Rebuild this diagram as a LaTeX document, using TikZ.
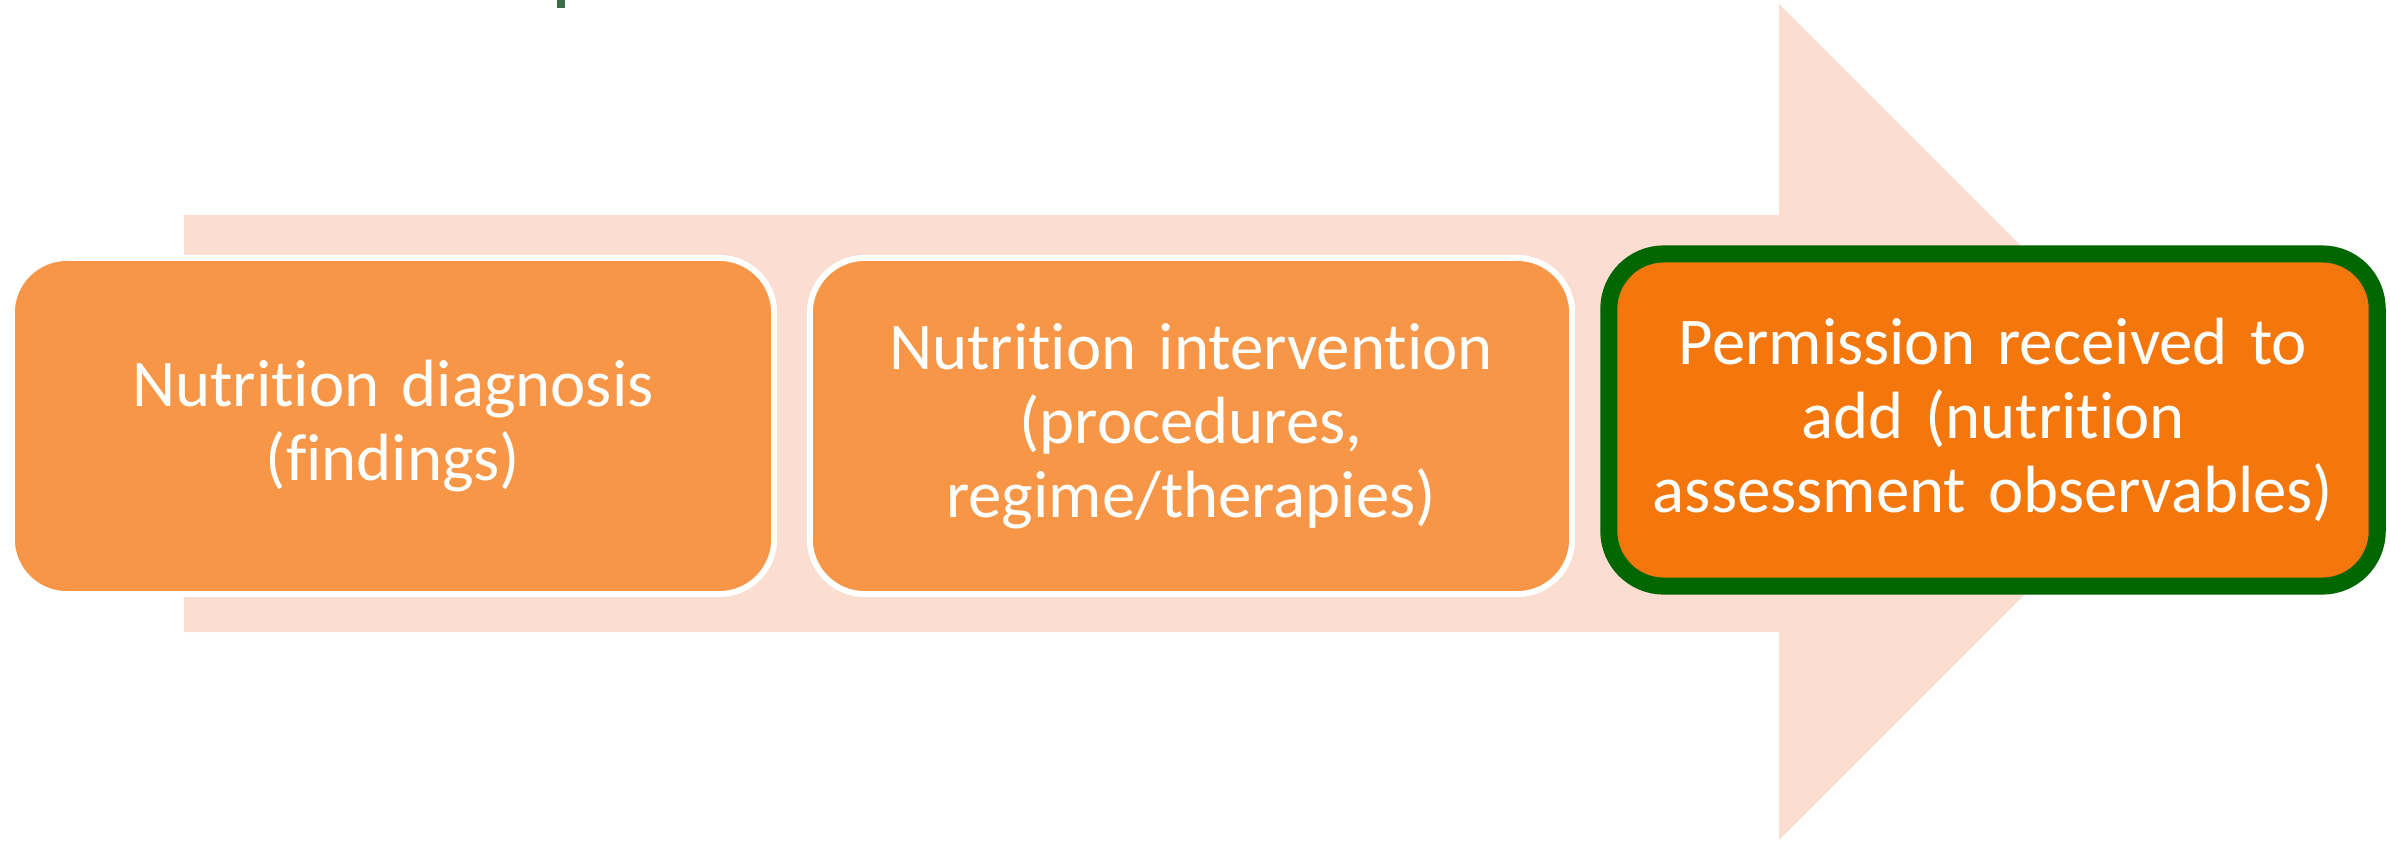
\documentclass[tikz,border=0pt]{standalone}
\usepackage{fontspec}
\setmainfont{Carlito}[Ligatures={NoCommon}]
\definecolor{arrowpink}{HTML}{FBDDD1}
\definecolor{boxorange}{HTML}{F79646}
\definecolor{lastorange}{HTML}{F4770D}
\definecolor{framegreen}{HTML}{006600}
\definecolor{titlegreen}{HTML}{3A6E46}
\begin{document}
\begin{tikzpicture}[x=0.01cm,y=-0.01cm,
  stepbox/.style={draw=white,fill=boxorange,line width=0.06cm,rounded corners=0.55cm,
    minimum width=7.62cm,minimum height=3.36cm,text width=7.2cm,align=center,
    text=white,font=\fontsize{19}{21}\selectfont},
  lastbox/.style={stepbox,draw=framegreen,fill=lastorange,line width=0.17cm,
    minimum width=7.68cm,minimum height=3.32cm}]

\useasboundingbox (0,0) rectangle (2390,842);

%arrow
\fill[arrowpink] (184,215) -- (1779,215) -- (1779,4) -- (2197,422) -- (1779,840) -- (1779,632) -- (184,632) -- cycle;

%title remnant
\fill[titlegreen] (557,0) rectangle (565,8);

\node[stepbox] (diag) at (393,426) {Nutrition diagnosis\\(findings)};
\node[stepbox] (interv) at (1191,426) {Nutrition intervention\\(procedures,\\regime/therapies)};
\node[lastbox] (perm) at (1993,420) {Permission received to\\add (nutrition\\assessment observables)};

\end{tikzpicture}
\end{document}
